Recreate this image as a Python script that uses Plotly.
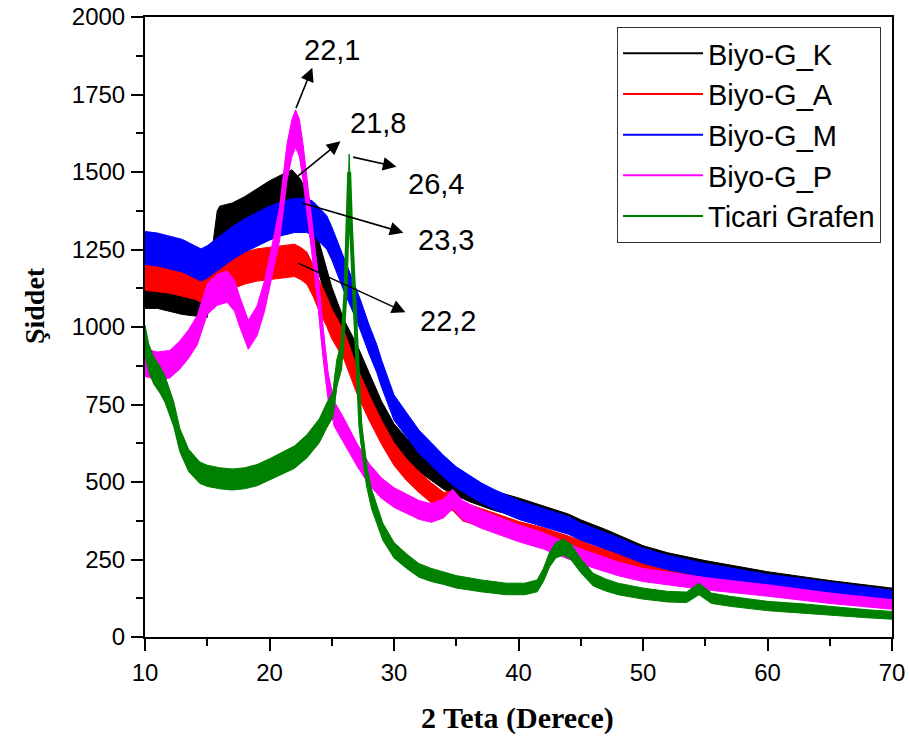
import numpy as np
import plotly.graph_objects as go

# ---------------- data ----------------
k_x = [10, 11, 12, 13, 14, 15.0, 15.8, 16, 17, 18, 19, 20, 21, 21.8, 22.5, 23, 23.5, 24, 24.5, 25,
       26, 27, 28, 29, 30, 31, 32, 33, 34, 35, 36, 37, 38, 40, 42, 44, 45, 47, 50, 52, 55, 58, 60, 65, 70]
k_y = [1110, 1110, 1100, 1090, 1085, 1080, 1320, 1335, 1345, 1365, 1390, 1415, 1435, 1450, 1420, 1380, 1320, 1220, 1150, 1080,
       975, 900, 810, 720, 650, 605, 570, 540, 510, 490, 470, 455, 440, 418, 393, 368, 350, 320, 270, 248, 224, 203, 190, 163, 140]

a_x = [10, 11, 12, 13, 14, 14.5, 15, 16, 17, 18, 19, 20, 21, 22, 22.5, 23, 23.5, 24, 24.6, 25, 26, 27, 28, 29,
       30, 31, 32, 33, 34, 34.7, 35.5, 37, 38, 40, 42, 44, 46, 48, 50, 52, 55, 60, 65, 70]
a_y = [1170, 1165, 1160, 1150, 1140, 1130, 1145, 1165, 1175, 1190, 1200, 1205, 1210, 1215, 1205, 1190, 1150, 1100, 1050, 1010, 940, 830, 740, 660,
       590, 540, 500, 465, 435, 440, 405, 385, 370, 345, 325, 300, 270, 245, 222, 205, 185, 155, 130, 108]

m_x = [10, 11, 12, 13, 14, 14.5, 15, 16, 17, 18, 19, 20, 21, 22, 23, 23.5, 24, 24.6, 25, 25.5, 26, 27, 27.3, 28, 28.6, 29,
       30, 31, 32, 33, 34, 35, 36, 37, 38, 40, 42, 44, 45, 47, 48, 50, 52, 55, 58, 60, 65, 70]
m_y = [1255, 1250, 1240, 1230, 1210, 1200, 1210, 1240, 1270, 1295, 1315, 1335, 1350, 1360, 1360, 1350, 1330, 1305, 1270, 1220, 1165, 1070, 1040, 960, 900, 850,
       740, 685, 630, 590, 550, 515, 490, 465, 445, 410, 385, 360, 340, 310, 295, 262, 240, 215, 195, 182, 158, 133]

p_x = [10, 11, 12, 12.8, 13.5, 14.2, 15, 15.8, 16.6, 17.2, 17.6, 18.3, 19, 19.6, 20.3, 20.8, 21.4, 21.8, 22.1, 22.4, 22.7,
       23.3, 23.9, 24.3, 24.7, 25.2, 26, 27, 28, 29, 30, 31, 32, 33, 34, 34.7, 35.5, 37, 40, 42, 45, 48, 50, 55, 60, 65, 70]
p_y = [885, 875, 880, 910, 945, 990, 1090, 1120, 1130, 1100, 1050, 975, 1020, 1100, 1230, 1330, 1530, 1610, 1640, 1610, 1530,
       1330, 1120, 950, 810, 720, 665, 590, 525, 480, 450, 430, 410, 400, 415, 445, 410, 380, 335, 310, 260, 220, 200, 172, 150, 125, 105]

g_x = [10, 10.3, 10.7, 11.2, 11.6, 12.3, 12.8, 13.5, 14.4, 15, 16, 17, 18, 19, 20, 21, 22, 23, 24, 24.6, 25.1, 25.4, 25.8,
       26.1, 26.25, 26.4, 26.55, 26.8, 27.0, 27.3, 27.8, 28.2, 29.1, 30, 31, 32, 33, 34, 35, 37, 39, 40.5, 41.5, 42, 42.5,
       43, 43.6, 44.2, 45, 46, 47, 48, 50, 52, 53.5, 54.5, 55.5, 57, 60, 63, 65, 68, 70]
g_y = [960, 900, 860, 830, 800, 720, 635, 570, 530, 520, 512, 508, 512, 522, 540, 560, 580, 615, 665, 715, 750, 850, 910,
       1110, 1320, 1500, 1320, 1110, 900, 680, 520, 445, 340, 280, 245, 215, 200, 190, 178, 165, 155, 155, 165, 200, 250,
       280, 290, 275, 230, 185, 168, 155, 140, 130, 128, 155, 125, 115, 100, 92, 85, 75, 70]

series_names = ["Biyo-G_K", "Biyo-G_A", "Biyo-G_M", "Biyo-G_P", "Ticari Grafen"]
series_x = [k_x, a_x, m_x, p_x, g_x]
series_y = [k_y, a_y, m_y, p_y, g_y]
colors = ["#000000", "#FF0000", "#0000FF", "#FF00FF", "#008000"]

peak_labels = ["22,1", "21,8", "26,4", "23,3", "22,2"]

# ---------------- figure ----------------
NOISE_K = 1.5   # visual half-width of the counting-noise band ~ k*sqrt(I)
fig = go.Figure()
for name, xs, ys, col in zip(series_names, series_x, series_y, colors):
    xs = np.array(xs, dtype=float)
    ys = np.array(ys, dtype=float)
    hw = NOISE_K * np.sqrt(ys)
    fig.add_trace(go.Scatter(
        x=np.concatenate([xs, xs[::-1]]),
        y=np.concatenate([ys + hw, (ys - hw)[::-1]]),
        mode="lines", fill="toself", fillcolor=col,
        line=dict(color=col, width=1), hoverinfo="skip", showlegend=False))
    fig.add_trace(go.Scatter(x=xs, y=ys, mode="lines", name=name, showlegend=False,
                             line=dict(color=col, width=4)))
# legend entries (thin line samples as in the reference)
for name, col in zip(series_names, colors):
    fig.add_trace(go.Scatter(x=[None], y=[None], mode="lines", name=name,
                             line=dict(color=col, width=2)))

FONT = "Arial, 'Liberation Sans', sans-serif"
SERIF = "'Times New Roman', 'Liberation Serif', serif"

# arrows (tail at peak, head near label)
arrows = [
    (22.13, 1706, 23.49, 1841),
    (21.89, 1474, 25.82, 1603),
    (26.71, 1548, 30.32, 1516),
    (22.61, 1400, 30.88, 1303),
    (22.29, 1206, 31.04, 1045),
]
label_pos = [(25.02, 1893), (28.71, 1657), (33.37, 1461), (34.18, 1281), (34.34, 1020)]

annotations = []
for (x0, y0, x1, y1) in arrows:
    annotations.append(dict(x=x0, y=y0, ax=x1, ay=y1, xref="x", yref="y", axref="x", ayref="y",
                            text="", showarrow=True, arrowside="start",
                            startarrowhead=2, startarrowsize=1.7,
                            arrowhead=2, arrowsize=1.7,
                            arrowwidth=1.6, arrowcolor="black"))
for lab, (lx, ly) in zip(peak_labels, label_pos):
    annotations.append(dict(x=lx, y=ly, xref="x", yref="y", text=lab, showarrow=False,
                            xanchor="center", yanchor="middle",
                            font=dict(family=FONT, size=29, color="black")))

annotations.append(dict(x=-0.147, y=0.534, xref="paper", yref="paper", text="<b>Şiddet</b>",
                        textangle=-90, showarrow=False, xanchor="center", yanchor="middle",
                        font=dict(family=SERIF, size=28, color="black")))
annotations.append(dict(x=0.499, y=-0.131, xref="paper", yref="paper", text="<b>2 Teta (Derece)</b>",
                        showarrow=False, xanchor="center", yanchor="middle",
                        font=dict(family=SERIF, size=30, color="black")))

axis_common = dict(showgrid=False, zeroline=False, showline=True, linecolor="black", linewidth=2,
                   mirror=True, ticks="outside", ticklen=12, tickwidth=2, tickcolor="black",
                   automargin=False,
                   tickfont=dict(family=FONT, size=24, color="black"))

fig.update_layout(
    width=909, height=737,
    margin=dict(l=145, r=17, t=17, b=100),
    paper_bgcolor="white", plot_bgcolor="white",
    xaxis=dict(range=[10, 70], dtick=10, tick0=10, ticklabelstandoff=1,
               minor=dict(ticks="outside", ticklen=7, dtick=5, tickwidth=2, tickcolor="black"),
               **axis_common),
    yaxis=dict(range=[0, 2000], dtick=250, tick0=0, ticklabelstandoff=1,
               minor=dict(ticks="outside", ticklen=7, dtick=125, tickwidth=2, tickcolor="black"),
               **axis_common),
    legend=dict(x=0.9853, y=0.984, xanchor="right", yanchor="top",
                bgcolor="white", bordercolor="#333333", borderwidth=1,
                font=dict(family=FONT, size=29, color="black"),
                itemwidth=80, tracegroupgap=0),
    annotations=annotations,
    showlegend=True,
)

fig.write_html("out.html")
